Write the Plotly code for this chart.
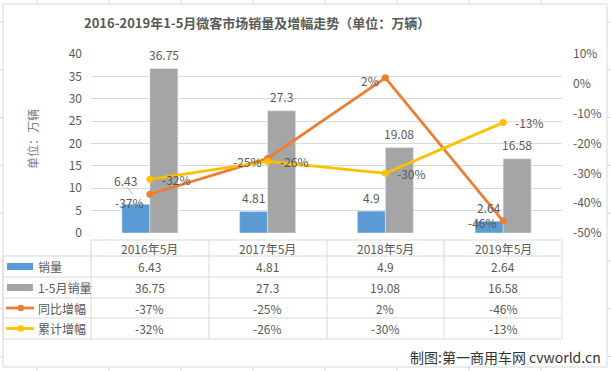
import plotly.graph_objects as go

# ---------------- data ----------------
categories = ["2016年5月", "2017年5月", "2018年5月", "2019年5月"]
sales_may = [6.43, 4.81, 4.9, 2.64]          # 销量
sales_jan_may = [36.75, 27.3, 19.08, 16.58]  # 1-5月销量
yoy_growth = [-37, -25, 2, -46]              # 同比增幅 (%)
cum_growth = [-32, -26, -30, -13]            # 累计增幅 (%)
series_names = ["销量", "1-5月销量", "同比增幅", "累计增幅"]
left_ticks = [0, 5, 10, 15, 20, 25, 30, 35, 40]
right_ticks = [-50, -40, -30, -20, -10, 0, 10]
title_text = "2016-2019年1-5月微客市场销量及增幅走势（单位：万辆）"
yaxis_title = "单位：万辆"
credit_text = "制图:第一商用车网 cvworld.cn"

# ---------------- style ----------------
W, H = 611, 371
FONT = "Noto Sans CJK SC"
TXT = "#595959"
GRID = "#D9D9D9"
C_BLUE, C_GRAY, C_ORANGE, C_YELLOW = "#5B9BD5", "#A5A5A5", "#ED7D31", "#FFC000"

def px(x):
    return x / W

def py(y):
    return 1 - y / H

PLOT_L, PLOT_R, PLOT_T, PLOT_B = 91, 562, 54, 233

fig = go.Figure()
fig.add_trace(go.Bar(x=categories, y=sales_may, name=series_names[0],
                     marker_color=C_BLUE, yaxis="y"))
fig.add_trace(go.Bar(x=categories, y=sales_jan_may, name=series_names[1],
                     marker_color=C_GRAY, yaxis="y"))
fig.add_trace(go.Scatter(x=categories, y=yoy_growth, name=series_names[2],
                         mode="lines+markers", yaxis="y2",
                         line=dict(color=C_ORANGE, width=2.75),
                         marker=dict(color=C_ORANGE, size=7)))
fig.add_trace(go.Scatter(x=categories, y=cum_growth, name=series_names[3],
                         mode="lines+markers", yaxis="y2",
                         line=dict(color=C_YELLOW, width=2.75),
                         marker=dict(color=C_YELLOW, size=7)))

ann = []
shapes = []

def tfont(size=12, color=TXT):
    return dict(size=size, color=color, family=FONT)

# bar data labels
for i, c in enumerate(categories):
    ann.append(dict(x=c, y=sales_may[i], xref="x", yref="y", text=str(sales_may[i]),
                    showarrow=False, xanchor="center", yanchor="middle",
                    xshift=(-24 if i == 0 else -14), yshift=(24 if i == 0 else 14),
                    font=tfont()))
    ann.append(dict(x=c, y=sales_jan_may[i], xref="x", yref="y", text=str(sales_jan_may[i]),
                    showarrow=False, xanchor="center", yanchor="middle",
                    xshift=14, yshift=14, font=tfont()))

# leader line of the moved first label
shapes.append(dict(type="line", xref="x", yref="y", xsizemode="pixel", ysizemode="pixel",
                   xanchor=categories[0], yanchor=sales_may[0],
                   x0=-23, x1=-17, y0=17, y1=10,
                   line=dict(color="#A6A6A6", width=0.75)))

# line data labels
yoy_shift = [-8, -3, -3, -1]
for i, c in enumerate(categories):
    ann.append(dict(x=c, y=yoy_growth[i], xref="x", yref="y2", text=f"{yoy_growth[i]}%",
                    showarrow=False, xanchor="right", yanchor="middle",
                    xshift=-4, yshift=yoy_shift[i], font=tfont()))
    ann.append(dict(x=c, y=cum_growth[i], xref="x", yref="y2", text=f"{cum_growth[i]}%",
                    showarrow=False, xanchor="left", yanchor="middle",
                    xshift=10, yshift=0, font=tfont()))

# title / axis title / credit
ann.append(dict(x=px(257), y=py(23), xref="paper", yref="paper", text=f"<b>{title_text}</b>",
                showarrow=False, xanchor="center", yanchor="middle", font=tfont(13)))
ann.append(dict(x=px(32), y=py(139), xref="paper", yref="paper", text=yaxis_title,
                textangle=-90, showarrow=False, xanchor="center", yanchor="middle",
                font=tfont(12, "#7F7F7F")))
ann.append(dict(x=px(603), y=py(357), xref="paper", yref="paper", text=credit_text,
                xanchor="right", yanchor="middle", showarrow=False, font=tfont(14, "#333333")))

# ---------------- data table ----------------
row_lines = [240, 256, 277, 298, 318, 339]
col_lines = [91, 209, 327, 444, 562]
row_centers = [(row_lines[k] + row_lines[k + 1]) / 2 for k in range(5)]

def hline(x0, x1, y):
    shapes.append(dict(type="line", xref="paper", yref="paper", x0=px(x0), x1=px(x1),
                       y0=py(y), y1=py(y), line=dict(color=GRID, width=1)))

def vline(x, y0, y1):
    shapes.append(dict(type="line", xref="paper", yref="paper", x0=px(x), x1=px(x),
                       y0=py(y0), y1=py(y1), line=dict(color=GRID, width=1)))

hline(91, 562, row_lines[0])
for y in row_lines[1:]:
    hline(3, 562, y)
for x in col_lines:
    vline(x, row_lines[0], row_lines[-1])
vline(3, row_lines[1], row_lines[-1])

rows = [
    [str(v) for v in sales_may],
    [str(v) for v in sales_jan_may],
    [f"{v}%" for v in yoy_growth],
    [f"{v}%" for v in cum_growth],
]
for i, c in enumerate(categories):
    ann.append(dict(x=c, y=py(row_centers[0]), xref="x", yref="paper", text=c,
                    showarrow=False, xanchor="center", yanchor="middle", font=tfont()))
    for r in range(4):
        ann.append(dict(x=c, y=py(row_centers[r + 1]), xref="x", yref="paper", text=rows[r][i],
                        showarrow=False, xanchor="center", yanchor="middle", font=tfont()))

# legend keys + names
key_colors = [C_BLUE, C_GRAY, C_ORANGE, C_YELLOW]
for r in range(4):
    yc = row_centers[r + 1]
    if r < 2:
        shapes.append(dict(type="rect", xref="paper", yref="paper", x0=px(7), x1=px(33),
                           y0=py(yc - 3.5), y1=py(yc + 3.5), fillcolor=key_colors[r],
                           line=dict(width=0)))
    else:
        shapes.append(dict(type="line", xref="paper", yref="paper", x0=px(6), x1=px(34),
                           y0=py(yc), y1=py(yc), line=dict(color=key_colors[r], width=2.75)))
        shapes.append(dict(type="circle", xref="paper", yref="paper", x0=px(17.5), x1=px(24),
                           y0=py(yc - 3.25), y1=py(yc + 3.25), fillcolor=key_colors[r],
                           line=dict(width=0)))
    ann.append(dict(x=px(36), y=py(yc), xref="paper", yref="paper", text=series_names[r],
                    xanchor="left", yanchor="middle", showarrow=False, font=tfont()))

# chart frame
shapes.append(dict(type="rect", xref="paper", yref="paper", x0=px(3), x1=px(607),
                   y0=py(367), y1=py(4), line=dict(color=GRID, width=1)))
# spreadsheet cell lines outside the chart
for k in range(9):
    x = 37 + 72 * k
    if x < W:
        vline(x, 0, 4)
        vline(x, 367, 371)
for k in range(8):
    y = 22 + 47.8 * k
    hline(0, 3, y)
    hline(607, 611, y)

fig.update_layout(
    width=W, height=H,
    margin=dict(l=0, r=0, t=0, b=0, autoexpand=False),
    paper_bgcolor="white", plot_bgcolor="white",
    showlegend=False,
    barmode="group", bargap=0.5244, bargroupgap=0,
    font=dict(family=FONT, color=TXT, size=12),
    xaxis=dict(domain=[px(PLOT_L), px(PLOT_R)], type="category", range=[-0.5, 3.5],
               showticklabels=False, showgrid=False, zeroline=False, showline=False, ticks=""),
    yaxis=dict(domain=[py(PLOT_B), py(PLOT_T)], range=[0, 40], tickmode="array",
               tickvals=left_ticks, ticktext=[str(t) for t in left_ticks],
               showgrid=True, gridcolor=GRID, gridwidth=1, zeroline=False, showline=False,
               ticks="", ticklabelstandoff=8, tickfont=tfont()),
    yaxis2=dict(overlaying="y", side="right", range=[-50, 10], tickmode="array",
                tickvals=right_ticks, ticktext=[f"{t}%" for t in right_ticks],
                showgrid=False, zeroline=False, showline=False, ticks="", ticklabelstandoff=10,
                tickfont=tfont()),
    annotations=ann, shapes=shapes,
)

fig.write_html("out.html", config={"displayModeBar": False},
               post_script="document.body.style.margin='0';document.body.style.overflow='hidden';")
